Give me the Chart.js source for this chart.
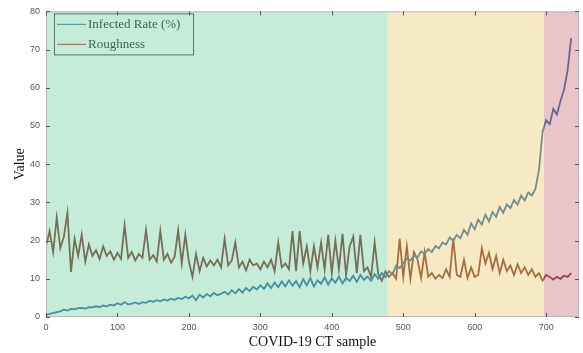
<!DOCTYPE html>
<html>
<head>
<meta charset="utf-8">
<script src="https://cdn.jsdelivr.net/npm/chart.js@4"></script>
<style>
  html, body { margin: 0; padding: 0; background: #fff; }
  #wrap { width: 583px; height: 353px; }
</style>
</head>
<body>
<div id="wrap"><canvas id="ctChart" width="583" height="353"></canvas></div>
<script>
// Values, one every 5 samples
const sampleStep = 5;

const infectedRate = [
  0.5, 0.8, 1.0, 1.3, 1.5, 1.9, 1.7, 2.1, 2.0, 2.3,
  2.4, 2.2, 2.6, 2.5, 2.8, 2.6, 3.0, 2.8, 3.2, 3.0,
  3.6, 3.2, 3.9, 3.3, 3.5, 3.8, 3.4, 3.9, 3.7, 4.2,
  4.0, 4.4, 4.1, 4.6, 4.3, 4.8, 4.5, 5.0, 4.7, 5.3,
  4.9, 5.6, 4.4, 5.8, 5.1, 6.0, 5.4, 6.3, 5.7, 6.1,
  6.6, 5.9, 7.0, 6.2, 7.3, 6.4, 7.6, 6.8, 7.9, 7.2,
  8.3, 7.4, 8.8, 7.6, 9.0, 7.8, 9.3, 8.0, 9.6, 8.2,
  9.4, 7.8, 9.9, 8.3, 10.2, 8.0, 9.6, 8.7, 10.4, 8.5,
  10.1, 9.0, 10.6, 8.8, 10.3, 9.4, 10.8, 9.2, 11.0, 9.7,
  10.6, 9.5, 11.2, 10.0, 11.5, 10.4, 12.0, 11.2, 13.5, 12.8,
  14.2, 15.3, 14.8, 16.1, 15.6, 17.2, 16.5, 17.8, 17.0, 18.6,
  18.0, 19.5, 19.0, 20.8, 20.0, 21.5, 20.6, 22.8, 21.5, 24.5,
  23.0, 25.5, 24.2, 26.8, 25.0, 27.5, 26.2, 28.8, 27.3, 29.5,
  28.5, 30.6, 29.4, 31.8, 30.5, 32.6, 31.8, 33.5, 38.5, 48.5,
  51.5, 50.5, 54.5, 53.0, 56.5, 59.5, 64.5, 73.0
];

const roughness = [
  18.5, 22.5, 17.0, 26.0, 18.0, 21.0, 27.3, 11.8, 20.5, 16.0,
  21.5, 14.5, 19.0, 16.0, 17.5, 15.2, 18.5, 16.0, 17.2, 15.0,
  16.8, 15.2, 24.0, 15.5, 17.0, 14.8, 16.5, 15.5, 22.8, 15.0,
  16.2, 14.5, 22.5, 15.0, 16.5, 14.2, 15.8, 22.7, 14.0, 21.5,
  14.5, 10.5, 16.5, 12.0, 15.5, 13.2, 14.8, 13.5, 15.0, 13.0,
  20.5, 13.5, 14.8, 19.5, 13.0, 14.5, 12.2, 15.0, 13.5, 14.0,
  12.5, 14.5, 13.0, 15.0, 12.0, 19.5, 13.0, 14.0, 12.5, 22.5,
  12.0, 22.5, 14.0, 18.5, 12.0, 18.5, 13.0, 19.5, 12.5, 21.5,
  11.5, 20.0, 12.5, 21.8, 11.0, 18.5, 21.0, 11.5, 21.5, 12.0,
  13.0, 10.5, 19.5, 11.2, 9.5, 12.0, 10.5, 11.5, 10.0, 20.5,
  10.5, 18.5, 10.0, 17.0, 15.0, 10.2, 17.0, 10.5, 11.5, 10.0,
  11.0, 10.2, 12.5, 10.5, 20.5, 11.0, 10.5, 15.0, 10.2, 13.0,
  10.5, 11.0, 18.0, 14.0, 16.8, 12.5, 16.0, 11.5, 15.0, 12.0,
  13.5, 11.0, 13.8, 11.5, 13.0, 11.0, 12.5, 10.5, 11.5, 9.5,
  11.0, 10.5, 9.8, 10.5, 10.0, 10.8, 10.5, 11.5
];

// sample index where each shaded phase starts / ends
const phaseBounds = [0, 478, 697, 746];
const phaseColors = ['rgba(127, 213, 171, 0.45)', 'rgba(236, 209, 127, 0.45)', 'rgba(207, 124, 133, 0.45)'];

const xTicks = [0, 100, 200, 300, 400, 500, 600, 700];
const yTicks = [0, 10, 20, 30, 40, 50, 60, 70, 80];

const samples = infectedRate.map((_, i) => i * sampleStep);
const toPoints = arr => arr.map((v, i) => ({ x: samples[i], y: v }));

const serif = "'Liberation Serif', 'Times New Roman', serif";
const blueLine = '#15589a';
const redLine = '#701a10';

// shaded phases, legend, frame and inward ticks (MATLAB style)
const decorPlugin = {
  id: 'decor',
  afterDatasetsDraw(chart) {
    const { ctx, chartArea: a, scales } = chart;
    const xs = scales.x, ys = scales.y;
    ctx.save();

    // legend box (tinted by overlay afterwards, like the original)
    const lx = a.left + 8, ly = a.top + 2, lw = 139, lh = 41;
    ctx.fillStyle = '#ffffff';
    ctx.fillRect(lx, ly, lw, lh);
    ctx.strokeStyle = '#2a2a2a';
    ctx.lineWidth = 1;
    ctx.strokeRect(lx + 0.5, ly + 0.5, lw, lh);
    const entries = [['Infected Rate (%)', '#2a6fb0'], ['Roughness', '#c0392b']];
    ctx.font = '13px ' + serif;
    ctx.textBaseline = 'middle';
    entries.forEach(([label, col], i) => {
      const y = ly + 11 + i * 20;
      ctx.strokeStyle = col;
      ctx.lineWidth = 1.3;
      ctx.beginPath();
      ctx.moveTo(lx + 3, y);
      ctx.lineTo(lx + 32, y);
      ctx.stroke();
      ctx.fillStyle = '#000';
      ctx.fillText(label, lx + 34, y);
    });

    // phase overlays
    for (let i = 0; i < phaseColors.length; i++) {
      const x0 = xs.getPixelForValue(phaseBounds[i]);
      const x1 = xs.getPixelForValue(phaseBounds[i + 1]);
      ctx.fillStyle = phaseColors[i];
      ctx.fillRect(x0, a.top, x1 - x0, a.bottom - a.top);
    }

    // frame
    ctx.strokeStyle = '#b8b8b8';
    ctx.lineWidth = 1;
    ctx.strokeRect(a.left + 0.5, a.top + 0.5, a.right - a.left - 1, a.bottom - a.top - 1);

    // inward ticks
    ctx.strokeStyle = '#555';
    ctx.beginPath();
    xTicks.forEach(t => {
      const px = Math.round(xs.getPixelForValue(t)) + 0.5;
      ctx.moveTo(px, a.bottom); ctx.lineTo(px, a.bottom - 4);
      ctx.moveTo(px, a.top); ctx.lineTo(px, a.top + 4);
    });
    yTicks.forEach(t => {
      const py = Math.round(ys.getPixelForValue(t)) + 0.5;
      ctx.moveTo(a.left, py); ctx.lineTo(a.left + 4, py);
      ctx.moveTo(a.right, py); ctx.lineTo(a.right - 4, py);
    });
    ctx.stroke();
    ctx.restore();
  }
};

new Chart(document.getElementById('ctChart').getContext('2d'), {
  type: 'line',
  data: {
    datasets: [
      {
        label: 'Infected Rate (%)',
        data: toPoints(infectedRate),
        borderColor: blueLine,
        borderWidth: 1.8,
        pointRadius: 0,
        tension: 0
      },
      {
        label: 'Roughness',
        data: toPoints(roughness),
        borderColor: redLine,
        borderWidth: 1.8,
        pointRadius: 0,
        tension: 0
      }
    ]
  },
  options: {
    responsive: false,
    animation: false,
    layout: { padding: { top: 10, right: 4, left: 0, bottom: 0 } },
    plugins: {
      legend: { display: false },
      tooltip: { enabled: false }
    },
    scales: {
      x: {
        type: 'linear',
        min: phaseBounds[0],
        max: phaseBounds[phaseBounds.length - 1],
        grid: { display: false, drawTicks: false },
        border: { display: false },
        afterBuildTicks: s => { s.ticks = xTicks.map(v => ({ value: v })); },
        afterFit: s => { s.height = 36; },
        ticks: {
          padding: 5,
          color: '#555',
          font: { family: "'Liberation Sans', Arial, sans-serif", size: 9 }
        },
        title: {
          display: true,
          text: 'COVID-19 CT sample',
          color: '#111',
          font: { family: serif, size: 14 },
          padding: { top: 0, bottom: 2 }
        }
      },
      y: {
        min: 0,
        max: 80,
        grid: { display: false, drawTicks: false },
        border: { display: false },
        afterBuildTicks: s => { s.ticks = yTicks.map(v => ({ value: v })); },
        afterFit: s => { s.width = 46; },
        ticks: {
          padding: 6,
          color: '#555',
          font: { family: "'Liberation Sans', Arial, sans-serif", size: 9 }
        },
        title: {
          display: true,
          text: 'Value',
          color: '#111',
          font: { family: serif, size: 14 },
          padding: { top: 12, bottom: 0 }
        }
      }
    }
  },
  plugins: [decorPlugin]
});
</script>
</body>
</html>
